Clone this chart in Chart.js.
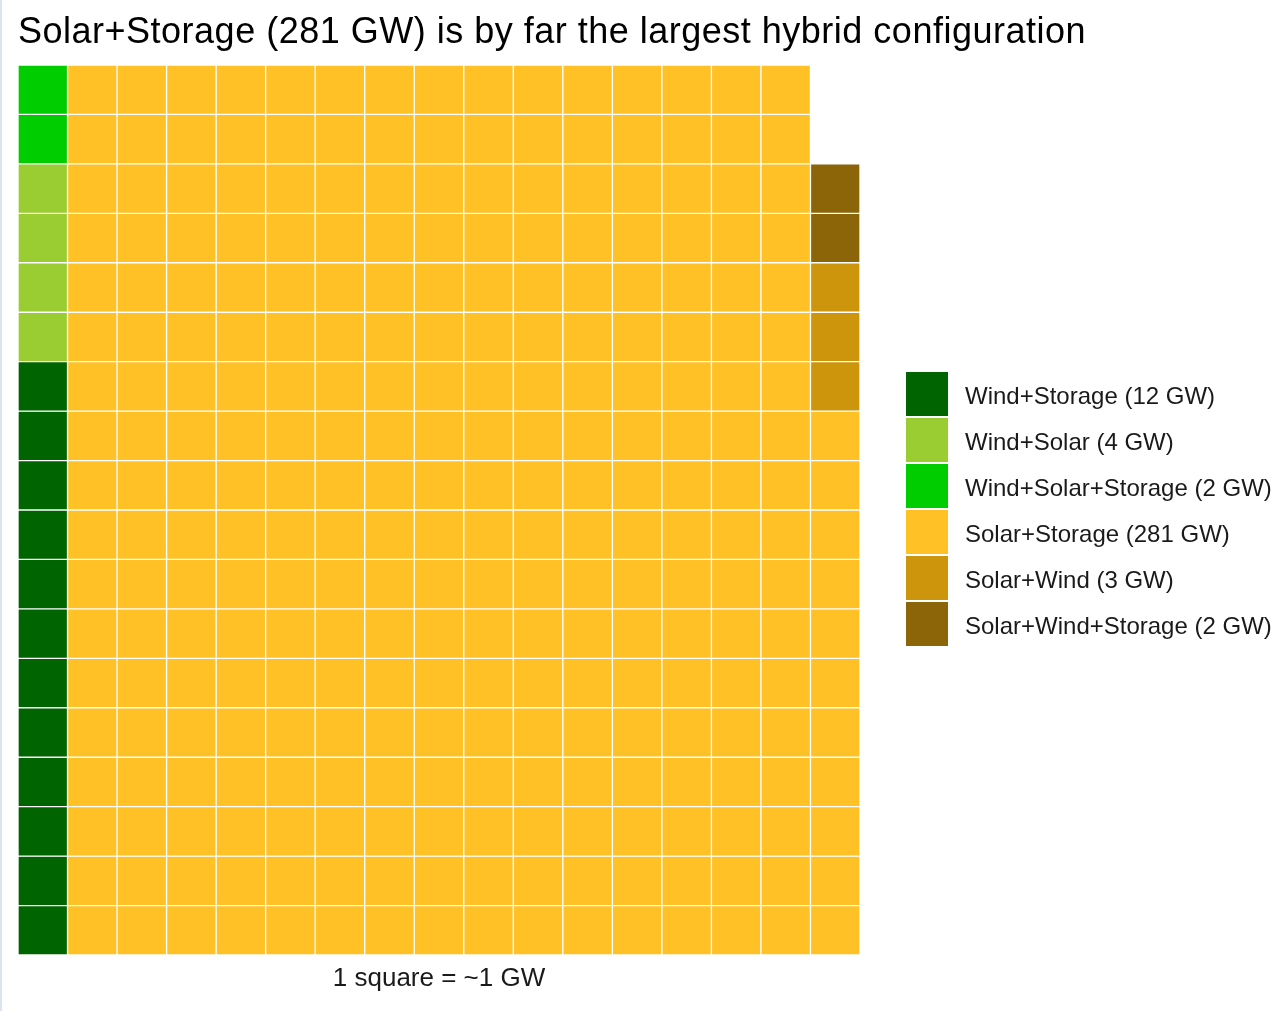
<!DOCTYPE html>
<html>
<head>
<meta charset="utf-8">
<script src="https://cdn.jsdelivr.net/npm/chart.js@4.4.1/dist/chart.umd.min.js"></script>
<style>
  html, body { margin: 0; padding: 0; background: #ffffff; }
  #wrap { position: relative; width: 1276px; height: 1011px; }
  #edge { position: absolute; left: 0; top: 0; width: 2px; height: 1011px; background: #dde3f0; }
  canvas { position: absolute; left: 0; top: 0; }
</style>
</head>
<body>
<div id="wrap">
  <canvas id="c" width="1276" height="1011"></canvas>
  <div id="edge"></div>
</div>
<script>
// ---- Data ----
const titleText = 'Solar+Storage (281 GW) is by far the largest hybrid configuration';
const captionText = '1 square = ~1 GW';
const categories = ['Wind+Storage', 'Wind+Solar', 'Wind+Solar+Storage', 'Solar+Storage', 'Solar+Wind', 'Solar+Wind+Storage'];
const valuesGW = [12, 4, 2, 281, 3, 2];
const colors = ['#006400', '#9ACD32', '#00CD00', '#FFC125', '#CD950C', '#8B6508'];
const rowsPerColumn = 18;
const columnCount = 17;

// ---- Build waffle cells (filled column by column, bottom to top) ----
const columnLabels = Array.from({ length: columnCount }, (_, i) => 'c' + i);
let idx = 0;
const datasets = categories.map((name, k) => {
  const pts = [];
  for (let n = 0; n < valuesGW[k]; n++) {
    const col = Math.floor(idx / rowsPerColumn);
    const row = idx % rowsPerColumn;
    pts.push({ x: columnLabels[col], y: [row, row + 1] });
    idx++;
  }
  return {
    label: name + ' (' + valuesGW[k] + ' GW)',
    data: pts,
    backgroundColor: colors[k],
    borderColor: '#ffffff',
    borderWidth: 1,
    borderSkipped: false,
    barPercentage: 1,
    categoryPercentage: 1,
    grouped: false
  };
});

const FONT = 'Arial, "Liberation Sans", sans-serif';

const overlay = {
  id: 'overlay',
  afterDraw(chart) {
    const ctx = chart.ctx;
    const area = chart.chartArea;
    ctx.save();
    // title
    ctx.fillStyle = '#000000';
    ctx.font = '36px ' + FONT;
    ctx.textAlign = 'left';
    ctx.textBaseline = 'alphabetic';
    if ('letterSpacing' in ctx) ctx.letterSpacing = '0.5px';
    ctx.fillText(titleText, area.left, 43);
    if ('letterSpacing' in ctx) ctx.letterSpacing = '0px';
    // caption
    ctx.fillStyle = '#1a1a1a';
    ctx.font = '26px ' + FONT;
    ctx.textAlign = 'center';
    ctx.textBaseline = 'middle';
    ctx.fillText(captionText, (area.left + area.right) / 2, 979);
    // legend
    const bx = 905, by = 371, bs = 44, step = 46;
    chart.data.datasets.forEach((ds, i) => {
      const y = by + i * step;
      ctx.fillStyle = ds.backgroundColor;
      ctx.fillRect(bx, y, bs, step);
      ctx.strokeStyle = '#ffffff';
      ctx.lineWidth = 1;
      ctx.strokeRect(bx + 0.5, y + 0.5, bs - 1, step - 1);
      ctx.fillStyle = '#1a1a1a';
      ctx.font = '24px ' + FONT;
      ctx.textAlign = 'left';
      ctx.textBaseline = 'middle';
      ctx.fillText(ds.label, 965, y + step / 2 + 3);
    });
    ctx.restore();
  }
};

new Chart(document.getElementById('c'), {
  type: 'bar',
  data: { labels: columnLabels, datasets },
  options: {
    responsive: false,
    animation: false,
    layout: { padding: { left: 18, right: 416, top: 65, bottom: 56 } },
    scales: {
      x: { type: 'category', display: false, offset: true },
      y: { type: 'linear', display: false, min: 0, max: rowsPerColumn }
    },
    plugins: {
      legend: { display: false },
      tooltip: { enabled: false },
      title: { display: false }
    }
  },
  plugins: [overlay]
});
</script>
</body>
</html>
